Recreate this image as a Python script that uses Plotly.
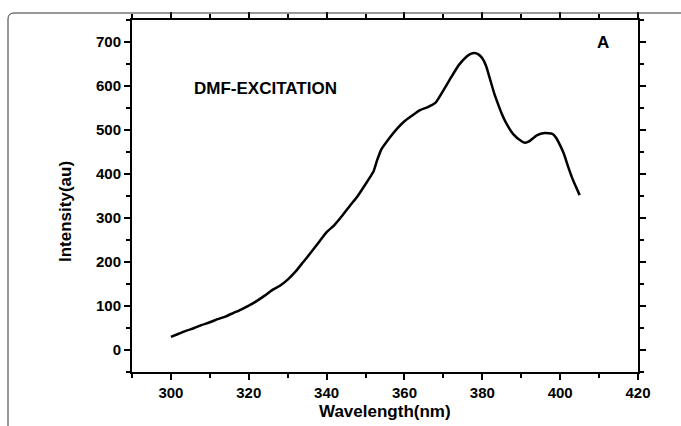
import plotly.graph_objects as go

wavelength = [300, 302, 304, 306, 308, 310, 312, 314, 316, 318, 320, 322, 324, 326, 328,
              330, 332, 334, 336, 338, 340, 342, 344, 346, 348, 350, 352, 353, 354, 356,
              358, 360, 362, 364, 366, 368, 370, 372, 374, 376, 377, 378, 379, 380, 381,
              382, 383, 384, 385, 386, 388, 390, 391, 392, 394, 396, 398, 399, 400, 401,
              402, 403, 404, 405]
intensity = [30, 37, 44, 50, 57, 63, 70, 76, 84, 92, 101, 111, 123, 136, 146,
             160, 178, 200, 222, 245, 268, 284, 305, 328, 350, 377, 405, 432, 455, 480,
             502, 520, 533, 545, 552, 562, 590, 620, 648, 667, 673, 675, 672, 663, 645,
             615, 585, 560, 537, 518, 490, 475, 471, 474, 488, 493, 491, 482, 465, 445,
             418, 393, 372, 352]

x_ticks = [300, 320, 340, 360, 380, 400, 420]
y_ticks = [0, 100, 200, 300, 400, 500, 600, 700]

W, H = 681, 426
ML, MR, MT, MB = 132, 43, 20, 54
pw, ph = W - ML - MR, H - MT - MB

def px(xp):
    return (xp - ML) / pw

def py(yp):
    return (H - MB - yp) / ph

fig = go.Figure()
fig.add_trace(go.Scatter(x=wavelength, y=intensity, mode="lines",
                         line=dict(color="black", width=2.5, shape="spline", smoothing=0.5),
                         showlegend=False, hoverinfo="skip"))

font_ticks = dict(family="Liberation Sans, Arial, sans-serif", size=15, color="black")
axis_common = dict(showgrid=False, zeroline=False, showline=True, linecolor="black",
                   linewidth=2, mirror="ticks", ticks="outside", ticklen=6, tickwidth=2,
                   tickcolor="black", tickfont=font_ticks)

fig.update_xaxes(range=[290, 420], tickvals=x_ticks,
                 ticktext=["<b>%d</b>" % v for v in x_ticks],
                 minor=dict(dtick=10, tick0=290, ticks="outside", ticklen=4, tickwidth=2,
                            tickcolor="black"),
                 **axis_common)
fig.update_yaxes(range=[-50, 750], tickvals=y_ticks,
                 ticktext=["<b>%d</b>" % v for v in y_ticks],
                 minor=dict(dtick=50, tick0=-50, ticks="outside", ticklen=4, tickwidth=2,
                            tickcolor="black"),
                 **axis_common)

bold = dict(family="Liberation Sans, Arial, sans-serif", color="black")
ann = dict(xref="paper", yref="paper", showarrow=False, xanchor="center", yanchor="middle")
fig.add_annotation(text="<b>Wavelength(nm)</b>", x=px(385), y=py(412),
                   font=dict(size=17, **bold), **ann)
fig.add_annotation(text="<b>Intensity(au)</b>", x=px(65), y=py(212), textangle=-90,
                   font=dict(size=17, **bold), **ann)
fig.add_annotation(text="<b>DMF-EXCITATION</b>", x=px(265), y=py(88),
                   font=dict(size=17, **bold), **ann)
fig.add_annotation(text="<b>A</b>", x=px(603), y=py(43),
                   font=dict(size=17, **bold), **ann)

# outer rounded frame (top and left edges)
fx, fy, fr = 8, 13, 6
path = ("M %f,%f L %f,%f Q %f,%f %f,%f L %f,%f" % (
    px(fx), py(H + 5), px(fx), py(fy + fr), px(fx), py(fy), px(fx + fr), py(fy),
    px(W + 5), py(fy)))
fig.add_shape(type="path", path=path, xref="paper", yref="paper",
              line=dict(color="#333333", width=1))

fig.update_layout(width=W, height=H, margin=dict(l=ML, r=MR, t=MT, b=MB),
                  paper_bgcolor="white", plot_bgcolor="white")

fig.write_html("out.html")
